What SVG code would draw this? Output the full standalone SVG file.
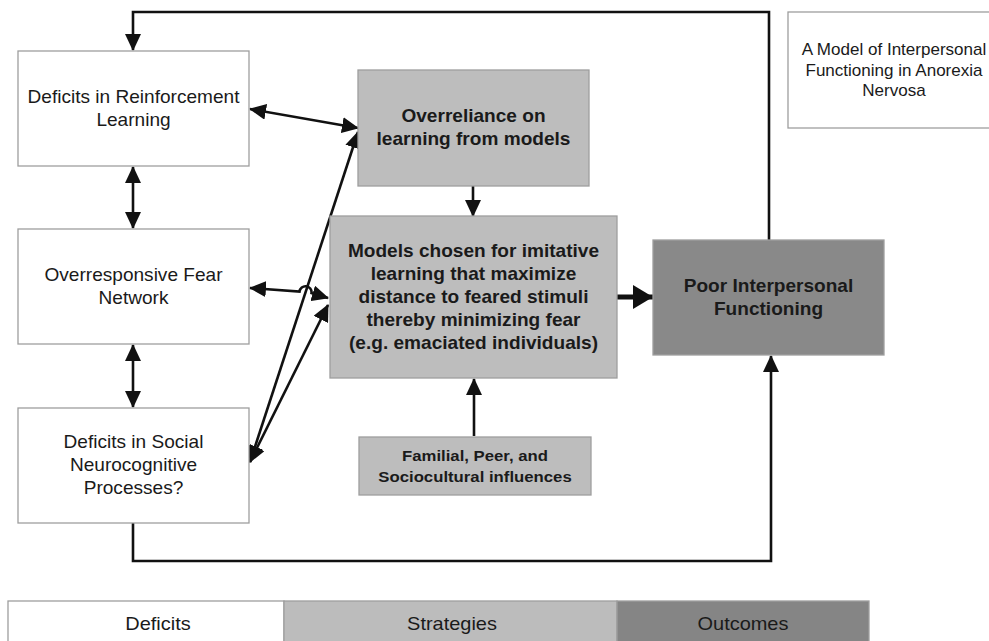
<svg xmlns="http://www.w3.org/2000/svg" width="989" height="641" viewBox="0 0 989 641">
<style>
.box{stroke:#9e9e9e;stroke-width:1.3}
.w{fill:#ffffff}
.g{fill:#bdbdbd}
.d{fill:#898989}
.t{font-family:"Liberation Sans",Arial,sans-serif;font-size:17.5px;fill:#1a1a1a;text-anchor:middle}
.b{font-weight:bold}
.s{font-size:15.5px}
.lg{font-size:19px}
.c{fill:none;stroke:#111;stroke-width:2.6}
</style>
<defs>
<marker id="ah" markerUnits="userSpaceOnUse" markerWidth="17" markerHeight="16" refX="16" refY="8" orient="auto-start-reverse">
<path d="M0,0 L17,8 L0,16 z" fill="#111"/>
</marker>
<marker id="ahb" markerUnits="userSpaceOnUse" markerWidth="20" markerHeight="24" refX="20" refY="12" orient="auto">
<path d="M0,0 L20,12 L0,24 z" fill="#111"/>
</marker>
</defs>
<rect width="989" height="641" fill="#ffffff"/>

<g id="connectors">
<polyline class="c" points="769,240 769,12 133,12 133,50" marker-end="url(#ah)"/>
<polyline class="c" points="133,523 133,561 771,561 771,356" marker-end="url(#ah)"/>
<line class="c" x1="133" y1="167" x2="133" y2="228" marker-start="url(#ah)" marker-end="url(#ah)"/>
<line class="c" x1="133" y1="345" x2="133" y2="407" marker-start="url(#ah)" marker-end="url(#ah)"/>
<line class="c" x1="250" y1="109" x2="358" y2="128" marker-start="url(#ah)" marker-end="url(#ah)"/>
<path class="c" d="M250,288 L299.5,291.5 A6,6 0 0 1 311.5,293 L328,298" marker-start="url(#ah)" marker-end="url(#ah)"/>
<line class="c" x1="250" y1="462" x2="358" y2="132" marker-start="url(#ah)" marker-end="url(#ah)"/>
<line class="c" x1="250" y1="462" x2="328" y2="305" marker-start="url(#ah)" marker-end="url(#ah)"/>
<line class="c" x1="473" y1="186" x2="473" y2="216" marker-end="url(#ah)"/>
<line class="c" x1="474" y1="436" x2="474" y2="379" marker-end="url(#ah)"/>
<line class="c" style="stroke-width:5" x1="617" y1="297" x2="653" y2="297" marker-end="url(#ahb)"/>
</g>

<g id="n-reinforcement">
<rect class="box w" x="18" y="51" width="231" height="115"/>
<text class="t" transform="matrix(1.09 0 0 1 133.5 0)" x="0" y="103">Deficits in Reinforcement</text>
<text class="t" transform="matrix(1.09 0 0 1 133.5 0)" x="0" y="126">Learning</text>
</g>

<g id="n-fear">
<rect class="box w" x="18" y="229" width="231" height="115"/>
<text class="t" transform="matrix(1.09 0 0 1 133.5 0)" x="0" y="281">Overresponsive Fear</text>
<text class="t" transform="matrix(1.09 0 0 1 133.5 0)" x="0" y="304">Network</text>
</g>

<g id="n-social">
<rect class="box w" x="18" y="408" width="231" height="115"/>
<text class="t" transform="matrix(1.09 0 0 1 133.5 0)" x="0" y="448">Deficits in Social</text>
<text class="t" transform="matrix(1.09 0 0 1 133.5 0)" x="0" y="471">Neurocognitive</text>
<text class="t" transform="matrix(1.09 0 0 1 133.5 0)" x="0" y="494">Processes?</text>
</g>

<g id="n-overreliance">
<rect class="box g" x="358" y="70" width="231" height="116"/>
<text class="t b" transform="matrix(1.09 0 0 1 473.5 0)" x="0" y="122">Overreliance on</text>
<text class="t b" transform="matrix(1.09 0 0 1 473.5 0)" x="0" y="145">learning from models</text>
</g>

<g id="n-models">
<rect class="box g" x="330" y="216" width="287" height="162"/>
<text class="t b" transform="matrix(1.09 0 0 1 473.5 0)" x="0" y="257">Models chosen for imitative</text>
<text class="t b" transform="matrix(1.09 0 0 1 473.5 0)" x="0" y="280">learning that maximize</text>
<text class="t b" transform="matrix(1.09 0 0 1 473.5 0)" x="0" y="303">distance to feared stimuli</text>
<text class="t b" transform="matrix(1.09 0 0 1 473.5 0)" x="0" y="326">thereby minimizing fear</text>
<text class="t b" transform="matrix(1.09 0 0 1 473.5 0)" x="0" y="349">(e.g. emaciated individuals)</text>
</g>

<g id="n-familial">
<rect class="box g" x="359" y="437" width="232" height="58"/>
<text class="t b s" transform="matrix(1.08 0 0 1 475 0)" x="0" y="461">Familial, Peer, and</text>
<text class="t b s" transform="matrix(1.08 0 0 1 475 0)" x="0" y="482">Sociocultural influences</text>
</g>

<g id="n-poor">
<rect class="box d" x="653" y="240" width="231" height="115"/>
<text class="t b" transform="matrix(1.09 0 0 1 768.5 0)" x="0" y="292">Poor Interpersonal</text>
<text class="t b" transform="matrix(1.09 0 0 1 768.5 0)" x="0" y="315">Functioning</text>
</g>

<g id="n-title">
<rect class="box w" x="788" y="12" width="215" height="116"/>
<text class="t" style="font-size:16px" transform="matrix(1.065 0 0 1 894 0)" x="0" y="55">A Model of Interpersonal</text>
<text class="t" style="font-size:16px" transform="matrix(1.065 0 0 1 894 0)" x="0" y="76">Functioning in Anorexia</text>
<text class="t" style="font-size:16px" transform="matrix(1.065 0 0 1 894 0)" x="0" y="96">Nervosa</text>
</g>

<g id="legend">
<rect class="box w" x="8" y="601" width="276" height="45"/>
<rect class="box" x="284" y="601" width="333" height="45" fill="#bcbcbc"/>
<rect class="box" x="617" y="601" width="252" height="45" fill="#858585"/>
<text class="t lg" transform="matrix(1.05 0 0 1 158 0)" x="0" y="630">Deficits</text>
<text class="t lg" transform="matrix(1.05 0 0 1 452 0)" x="0" y="630">Strategies</text>
<text class="t lg" transform="matrix(1.05 0 0 1 743 0)" x="0" y="630">Outcomes</text>
</g>
</svg>
